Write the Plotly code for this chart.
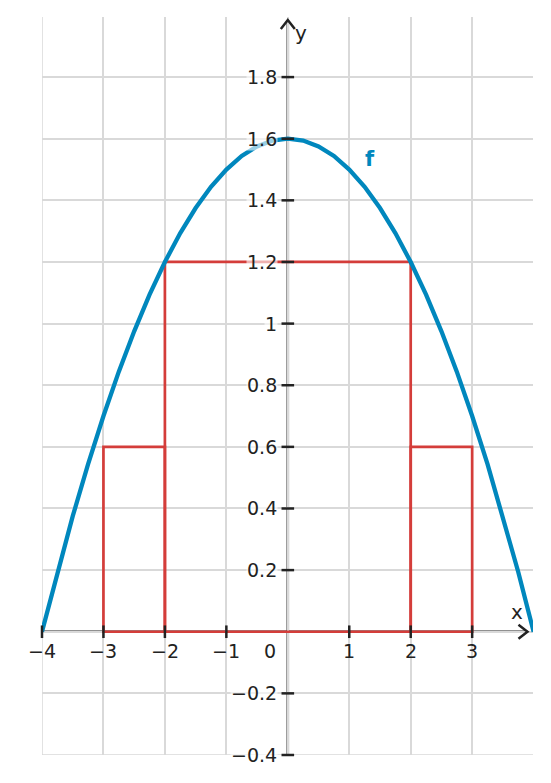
import plotly.graph_objects as go

# curve f, values
curve_x = [-4, -3.75, -3.5, -3.25, -3, -2.75, -2.5, -2.25, -2, -1.75, -1.5, -1.25, -1,
           -0.75, -0.5, -0.25, 0, 0.25, 0.5, 0.75, 1, 1.25, 1.5, 1.75, 2, 2.25, 2.5,
           2.75, 3, 3.25, 3.5, 3.75, 4]
curve_y = [0, 0.194, 0.375, 0.544, 0.7, 0.844, 0.975, 1.094, 1.2, 1.294, 1.375, 1.444, 1.5,
           1.544, 1.575, 1.594, 1.6, 1.594, 1.575, 1.544, 1.5, 1.444, 1.375, 1.294, 1.2, 1.094,
           0.975, 0.844, 0.7, 0.544, 0.375, 0.194, 0]

# red rectangles (lower sum)
rect_left = [-3, -2, 2]
rect_right = [-2, 2, 3]
rect_height = [0.6, 1.2, 0.6]

x_ticks = [-4, -3, -2, -1, 1, 2, 3]
x_tick_labels = ["−4", "−3", "−2", "−1", "1", "2", "3"]
y_ticks = [-0.4, -0.2, 0.2, 0.4, 0.6, 0.8, 1, 1.2, 1.4, 1.6, 1.8]
y_tick_labels = ["−0.4", "−0.2", "0.2", "0.4", "0.6", "0.8", "1", "1.2", "1.4", "1.6", "1.8"]

BLUE = "#0087bd"
RED = "#d43d3a"
INK = "#222222"
GRID = "#d9d9d9"
FONT = "DejaVu Sans"

fig = go.Figure()

fig.add_trace(
    go.Bar(
        x=[(a + b) / 2 for a, b in zip(rect_left, rect_right)],
        y=rect_height,
        width=[b - a for a, b in zip(rect_left, rect_right)],
        marker=dict(color="rgba(0,0,0,0)", line=dict(color=RED, width=2.7)),
        hoverinfo="skip",
    )
)

fig.add_trace(
    go.Scatter(
        x=curve_x,
        y=curve_y,
        mode="lines",
        line=dict(color=BLUE, width=4.3),
    )
)

# tick marks crossing the axes
fig.add_trace(
    go.Scatter(
        x=x_ticks,
        y=[0] * len(x_ticks),
        mode="markers",
        marker=dict(symbol="line-ns", size=9, line=dict(color=INK, width=2.5)),
        cliponaxis=False,
    )
)
fig.add_trace(
    go.Scatter(
        x=[0] * len(y_ticks),
        y=y_ticks,
        mode="markers",
        marker=dict(symbol="line-ew", size=9, line=dict(color=INK, width=2.5)),
        cliponaxis=False,
    )
)

# grid lines on the left and bottom edges
fig.add_shape(type="line", xref="x", yref="paper", x0=-4, x1=-4, y0=0, y1=1,
              line=dict(color=GRID, width=1.5), layer="below")
fig.add_shape(type="line", xref="paper", yref="y", x0=0, x1=1, y0=-0.4, y1=-0.4,
              line=dict(color=GRID, width=1.5), layer="below")

# axes with arrows
fig.add_shape(type="line", x0=-4, x1=3.9, y0=0, y1=0,
              line=dict(color=INK, width=2.5), layer="below")
fig.add_shape(type="line", x0=0, x1=0, y0=-0.4, y1=1.985,
              line=dict(color=INK, width=2.5), layer="below")
fig.add_shape(type="path", xsizemode="pixel", ysizemode="pixel",
              xanchor=3.9, yanchor=0, path="M -9,-7 L 0,0 L -9,7",
              line=dict(color=INK, width=2.5))
fig.add_shape(type="path", xsizemode="pixel", ysizemode="pixel",
              xanchor=0, yanchor=1.985, path="M -7,-9 L 0,0 L 7,-9",
              line=dict(color=INK, width=2.5))

annotations = []
for xt, lab in zip(x_ticks, x_tick_labels):
    annotations.append(dict(x=xt, y=0, text=lab, showarrow=False, yshift=-19,
                            font=dict(family=FONT, size=19, color=INK)))
annotations.append(dict(x=0, y=0, text="0", showarrow=False, yshift=-19, xshift=-18,
                        font=dict(family=FONT, size=19, color=INK)))
for yt, lab in zip(y_ticks, y_tick_labels):
    annotations.append(dict(x=0, y=yt, text=lab, showarrow=False, xanchor="right",
                            xshift=-10, bgcolor="rgba(255,255,255,0.6)", borderpad=0,
                            font=dict(family=FONT, size=19, color=INK)))
annotations.append(dict(x=0, y=1.985, text="y", showarrow=False, xanchor="left",
                        xshift=5, yshift=-13, font=dict(family=FONT, size=20, color=INK)))
annotations.append(dict(x=3.9, y=0, text="x", showarrow=False, xanchor="center",
                        xshift=-10, yshift=20, font=dict(family=FONT, size=20, color=INK)))
annotations.append(dict(x=1.34, y=1.535, text="<b>f</b>", showarrow=False,
                        font=dict(family=FONT, size=21, color=BLUE)))

fig.update_layout(
    width=543,
    height=775,
    margin=dict(l=34, r=18, t=9, b=28),
    paper_bgcolor="white",
    plot_bgcolor="white",
    showlegend=False,
    annotations=annotations,
    xaxis=dict(range=[-4, 3.99], dtick=1, tick0=0, showgrid=True, gridcolor=GRID,
               gridwidth=1.5, zeroline=False, showticklabels=False, ticks="",
               showline=False, fixedrange=True),
    yaxis=dict(range=[-0.4, 1.995], dtick=0.2, tick0=0, showgrid=True, gridcolor=GRID,
               gridwidth=1.5, zeroline=False, showticklabels=False, ticks="",
               showline=False, fixedrange=True),
)

fig.write_html("out.html")
